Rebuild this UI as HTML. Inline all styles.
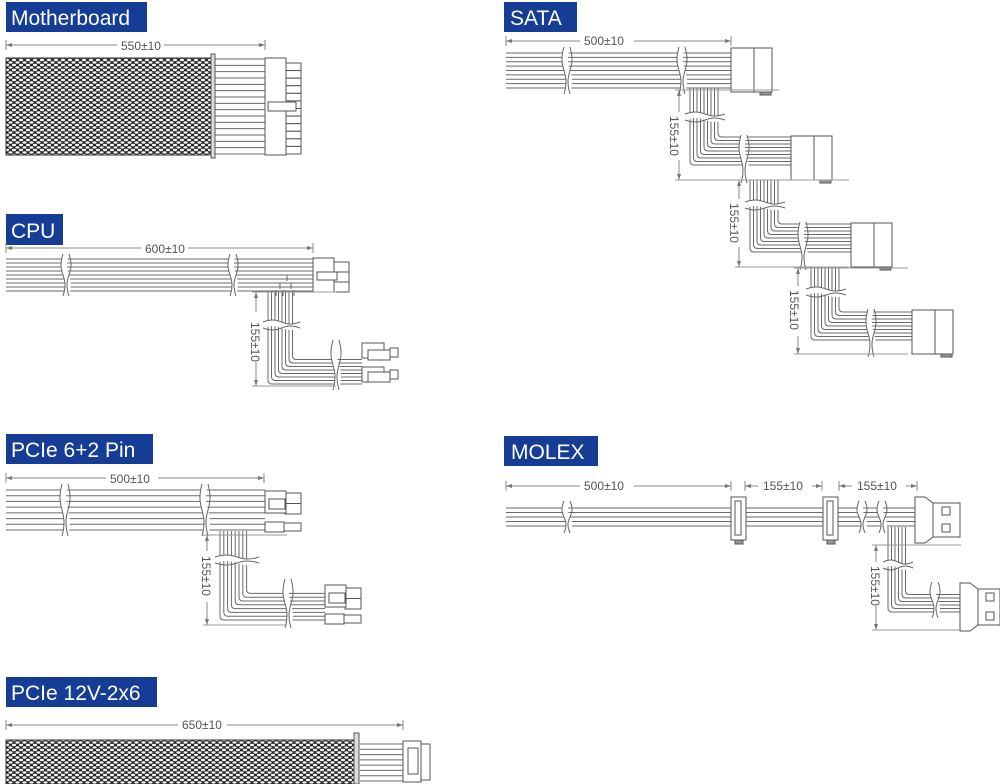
<!DOCTYPE html>
<html><head><meta charset="utf-8"><style>
html,body{margin:0;padding:0;background:#fff;width:1000px;height:784px;overflow:hidden}
svg{display:block}
.lbl{font-family:"Liberation Sans",sans-serif;font-size:21px;fill:#fff}
.dim{font-family:"Liberation Sans",sans-serif;font-size:12px;fill:#555}
</style></head><body>
<svg id="s" width="1000" height="784" viewBox="0 0 1000 784" xmlns="http://www.w3.org/2000/svg">
<defs>
<pattern id="mesh" width="7" height="5" patternUnits="userSpaceOnUse">
<rect width="7" height="5" fill="#262626"/>
<ellipse cx="3.5" cy="2.5" rx="2.1" ry="1.2" fill="#f4f4f4"/>
<ellipse cx="0" cy="0" rx="2.1" ry="1.2" fill="#f4f4f4"/>
<ellipse cx="7" cy="0" rx="2.1" ry="1.2" fill="#f4f4f4"/>
<ellipse cx="0" cy="5" rx="2.1" ry="1.2" fill="#f4f4f4"/>
<ellipse cx="7" cy="5" rx="2.1" ry="1.2" fill="#f4f4f4"/>
</pattern>
</defs>
<rect x="6" y="2" width="141" height="30" fill="#163d95"/><text class="lbl" x="11" y="25">Motherboard</text>
<rect x="504" y="2" width="73" height="30" fill="#163d95"/><text class="lbl" x="510" y="25">SATA</text>
<rect x="6" y="214" width="57" height="31" fill="#163d95"/><text class="lbl" x="11" y="238">CPU</text>
<rect x="6" y="434" width="147" height="30" fill="#163d95"/><text class="lbl" x="11" y="457">PCIe 6+2 Pin</text>
<rect x="504" y="436" width="94" height="30" fill="#163d95"/><text class="lbl" x="511" y="459">MOLEX</text>
<rect x="6" y="677" width="151" height="30" fill="#163d95"/><text class="lbl" x="11" y="700">PCIe 12V-2x6</text>
<g id="g"></g>
<text class="dim" x="121" y="50">550±10</text>
<text class="dim" x="145" y="253">600±10</text>
<text class="dim" x="584" y="45">500±10</text>
<text class="dim" x="110" y="483">500±10</text>
<text class="dim" x="584" y="490">500±10</text>
<text class="dim" x="763" y="490">155±10</text>
<text class="dim" x="857" y="490">155±10</text>
<text class="dim" x="182" y="729">650±10</text>
<text class="dim" transform="translate(251,322) rotate(90)">155±10</text>
<text class="dim" transform="translate(670,116) rotate(90)">155±10</text>
<text class="dim" transform="translate(730,203) rotate(90)">155±10</text>
<text class="dim" transform="translate(790,290) rotate(90)">155±10</text>
<text class="dim" transform="translate(202,556) rotate(90)">155±10</text>
<text class="dim" transform="translate(871,566) rotate(90)">155±10</text>
</svg>
<script>
const NS="http://www.w3.org/2000/svg",G=document.getElementById('g');
function el(t,a){const e=document.createElementNS(NS,t);for(const k in a)e.setAttribute(k,a[k]);G.appendChild(e);return e;}
const W="#6a6a6a";
function line(x1,y1,x2,y2,c,w){el('line',{x1,y1,x2,y2,stroke:c||W,'stroke-width':w||1});}
function rect(x,y,w,h,f){el('rect',{x,y,width:w,height:h,fill:f||'#fff',stroke:'#555','stroke-width':1});}
function wiresH(x1,x2,y1,y2,n){for(let i=0;i<n;i++){const y=y1+(y2-y1)*i/(n-1);line(x1,y,x2,y);}}
function breakH(x,y1,y2){const m=(y1+y2)/2;
 el('path',{d:`M${x-3},${y1-3} C${x-10},${m} ${x+4},${m} ${x-3},${y2+3} L${x+3},${y2+3} C${x+10},${m} ${x-4},${m} ${x+3},${y1-3}Z`,fill:'#fff'});
 el('path',{d:`M${x-3},${y1-3} C${x-10},${m} ${x+4},${m} ${x-3},${y2+3}`,fill:'none',stroke:'#666'});
 el('path',{d:`M${x+3},${y1-3} C${x+10},${m} ${x-4},${m} ${x+3},${y2+3}`,fill:'none',stroke:'#666'});}
function breakV(y,x1,x2){const m=(x1+x2)/2;
 el('path',{d:`M${x1-3},${y-3} C${m},${y-10} ${m},${y+4} ${x2+3},${y-3} L${x2+3},${y+3} C${m},${y+10} ${m},${y-4} ${x1-3},${y+3}Z`,fill:'#fff'});
 el('path',{d:`M${x1-3},${y-3} C${m},${y-10} ${m},${y+4} ${x2+3},${y-3}`,fill:'none',stroke:'#666'});
 el('path',{d:`M${x1-3},${y+3} C${m},${y+10} ${m},${y-4} ${x2+3},${y+3}`,fill:'none',stroke:'#666'});}
function branch(xL,ytop,yBot,xend,n,d){for(let i=0;i<n;i++){const x=xL+i*d,y=yBot-i*d,r=4;
 el('path',{d:`M${x},${ytop} L${x},${y-r} Q${x},${y} ${x+r},${y} L${xend},${y}`,fill:'none',stroke:W});}}
function arrH(x1,x2,y,tx1,tx2){line(x1,y-5,x1,y+5,'#888');line(x2,y-5,x2,y+5,'#888');
 line(x1,y,tx1,y,'#888');line(tx2,y,x2,y,'#888');
 el('path',{d:`M${x1},${y} l6,-2 v4z`,fill:'#777'});el('path',{d:`M${x2},${y} l-6,-2 v4z`,fill:'#777'});}
function arrV(x,y1,y2,ty1,ty2,ext){line(x,y1,x,ty1,'#888');line(x,ty2,x,y2,'#888');
 line(x-4,y1,x+ext,y1,'#999');line(x-4,y2,x+ext,y2,'#999');
 el('path',{d:`M${x},${y1} l-2,6 h4z`,fill:'#777'});el('path',{d:`M${x},${y2} l-2,-6 h4z`,fill:'#777'});}
function pins(x,y,w,h,n){for(let i=0;i<n;i++)rect(x,y+i*h/n,w,h/n);}

/* Motherboard */
arrH(6,265,45,117,164);
el('rect',{x:6,y:58,width:206,height:97,fill:'url(#mesh)',stroke:'#333'});
wiresH(215,265,59,154,16);
rect(211,54,4,104,'#ddd');
pins(285,63,16,91,12);
rect(265,58,21,97);
rect(268,102,28,9);
/* CPU */
arrH(6,313,248,141,188);
wiresH(6,313,259,291,9);
branch(268,292,384,362,8,3.5);
breakH(66,257,293);breakH(233,257,293);
breakV(325,266,297);breakH(336,343,387);
for(const a of [[280,283],[287,275],[291,283],[294,290],[283,290],[276,290]])line(a[0],a[1],a[0],a[1]+6,'#666');
pins(333,262,16,30,3);rect(313,258,21,34);rect(317,272,20,8);
rect(362,343,22,15);rect(368,350,22,10);rect(390,348,8,9);
rect(362,367,22,15);rect(368,372,22,10);rect(390,370,8,9);
arrV(256,292,386,312,362,80);
/* SATA */
arrH(506,731,41,580,634);
wiresH(506,731,53,88,9);
breakH(567,50,91);breakH(682,50,91);
function sataConn(x,y){rect(x,y,23,44);rect(x+23,y,18,44);rect(x+29,y+44,11,3,'#999');}
branch(690,88,165,791,9,3.5);breakV(117,688,722);breakH(744,138,180);
sataConn(731,48);
branch(750,180,252,851,9,3.5);breakV(205,748,782);breakH(803,225,267);
sataConn(791,136);
branch(811,267,340,912,9,3.5);breakV(292,809,843);breakH(871,312,354);
sataConn(851,223);sataConn(912,310);
arrV(679,90,180,112,160,100);arrV(739,180,267,199,247,110);arrV(798,268,354,286,336,110);
/* PCIe 6+2 */
arrH(6,264,478,106,158);
wiresH(6,265,490,530,8);
branch(220,531,620,325,8,3.8);
breakH(65,487,533);breakH(205,487,533);breakV(560,218,256);breakH(288,582,625);
pins(285,493,16,21,2);rect(265,491,21,22);rect(269,499,16,10);
rect(265,522,19,10);rect(284,523,17,8);
pins(345,588,16,21,2);rect(325,585,21,22);rect(329,593,16,10);
rect(325,614,19,10);rect(344,615,17,8);
arrV(207,535,625,551,602,80);
/* MOLEX */
arrH(506,731,486,580,634);arrH(745,822,486,758,812);arrH(839,917,486,852,906);
wiresH(506,915,508,526,5);
breakH(567,504,530);breakH(862,504,530);breakH(882,504,530);
branch(888,527,612,960,6,3.5);breakV(565,886,910);breakH(935,585,615);
function inl(x){rect(x,497,15,43);rect(x+4,501,6,34);rect(x+4,540,8,4,'#999');}
inl(731);inl(823);
el('path',{d:'M915,497 h10 l8,6 h27 v34 h-27 l-8,6 h-10z',fill:'#fff',stroke:'#555'});
rect(942,507,8,8);rect(942,524,8,8);line(933,503,933,537,'#555');
el('path',{d:'M960,583 h10 l8,6 h22 v36 h-22 l-8,6 h-10z',fill:'#fff',stroke:'#555'});
rect(986,593,8,8);rect(986,612,8,8);line(978,589,978,625,'#555');
arrV(876,545,630,562,606,85);
/* PCIe 12V */
arrH(6,403,725,178,227);
el('rect',{x:6,y:740,width:349,height:44,fill:'url(#mesh)',stroke:'#333'});
wiresH(360,403,744,781,8);
rect(354,733,5,51,'#ddd');
rect(403,741,18,41);rect(421,744,9,36);rect(408,748,10,26);
</script>
</body></html>
